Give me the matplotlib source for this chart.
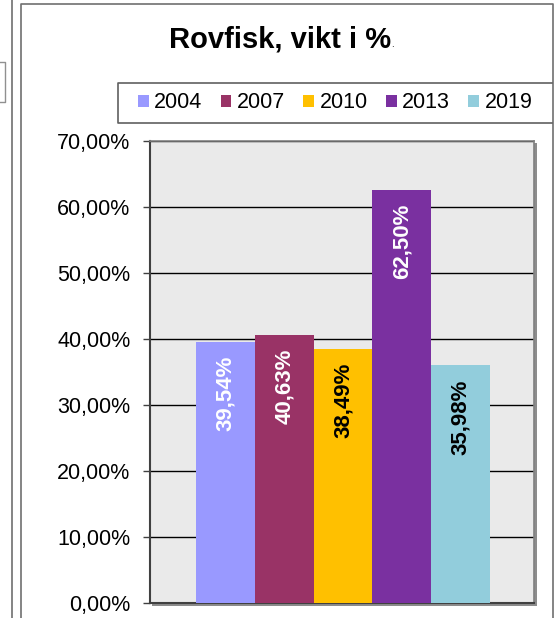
import matplotlib
matplotlib.use('Agg')
import matplotlib.pyplot as plt
from matplotlib.patches import Rectangle
from matplotlib.lines import Line2D
import numpy as np

plt.rcParams['font.family'] = ['Liberation Sans', 'DejaVu Sans']

# data
years = ['2004', '2007', '2010', '2013', '2019']
values = [39.54, 40.63, 38.49, 62.50, 35.98]
bar_colors = ['#9999FF', '#993366', '#FFC000', '#7A30A0', '#92CDDC']
label_colors = ['white', 'white', 'black', 'white', 'black']
yticks = [0, 10, 20, 30, 40, 50, 60, 70]
ytick_labels = ['0,00%', '10,00%', '20,00%', '30,00%', '40,00%', '50,00%', '60,00%', '70,00%']

W, H = 555, 618
fig = plt.figure(figsize=(W / 100, H / 100), dpi=100)

def fx(px):
    return px / W

def fy(py):
    return 1 - py / H

# borders of the chart (and the neighbouring one cut off at the left)
fig.add_artist(Line2D([fx(11.5), fx(11.5)], [0, 1], color='#707070', lw=1.2))
fig.add_artist(Line2D([0, fx(5), fx(5), 0], [fy(62), fy(62), fy(102), fy(102)], color='#909090', lw=1.0))
fig.add_artist(Line2D([fx(20.5), fx(20.5), fx(552.5), fx(552.5)], [0, fy(4), fy(4), 0], color='#707070', lw=1.2))

# plot area
left, right, top, bottom = 150, 534, 140.5, 603
ax = fig.add_axes([fx(left), fy(bottom), fx(right - left), (bottom - top) / H])
ax.set_facecolor('#EAEAEA')

# shadow behind plot area
fig.add_artist(Rectangle((fx(left + 2), fy(bottom + 2.5)), fx(right - left + 1), (bottom - top) / H,
                         facecolor='#8C8C8C', edgecolor='none', zorder=-1))

x = np.arange(len(years))
bars = ax.bar(x, values, width=1.0, color=bar_colors, label=years, zorder=3)

for xi, v, c in zip(x, values, label_colors):
    ax.annotate(f'{v:.2f}%'.replace('.', ','), (xi, v), xytext=(0, -10), textcoords='offset points',
                rotation=90, ha='center', va='top', fontsize=16, fontweight='bold', color=c, zorder=4)

ax.set_xlim(-1.284, 5.25)
ax.set_ylim(0, 70)
ax.set_yticks(yticks)
ax.set_yticklabels(ytick_labels, fontsize=15.5)
ax.set_xticks([])
ax.tick_params(axis='y', direction='out', length=5, width=1, pad=9, color='#404040')
ax.yaxis.grid(True, color='black', lw=1)
ax.set_axisbelow(True)
for s in ['left', 'bottom']:
    ax.spines[s].set_color('#404040')
    ax.spines[s].set_linewidth(1.5)
for s in ['right', 'top']:
    ax.spines[s].set_color('#808080')
    ax.spines[s].set_linewidth(1.2)

# title
fig.text(fx(169), fy(47), 'Rovfisk, vikt i %', fontsize=21, fontweight='bold', ha='left', va='baseline')
fig.text(fx(391), fy(47), '.', fontsize=7, ha='left', va='baseline')

# legend
fig.add_artist(Line2D([fx(552), fx(117.5), fx(117.5), fx(552)], [fy(83), fy(83), fy(123), fy(123)],
                      color='#606060', lw=1.2))
leg = fig.legend(handles=bars, labels=years, loc='center left', bbox_to_anchor=(fx(138), fy(103)),
                 ncol=5, frameon=False, fontsize=15.5, handlelength=0.5, handleheight=0.5,
                 handletextpad=0.25, columnspacing=0.85, borderpad=0, borderaxespad=0)

fig.savefig('out.png', dpi=100)
